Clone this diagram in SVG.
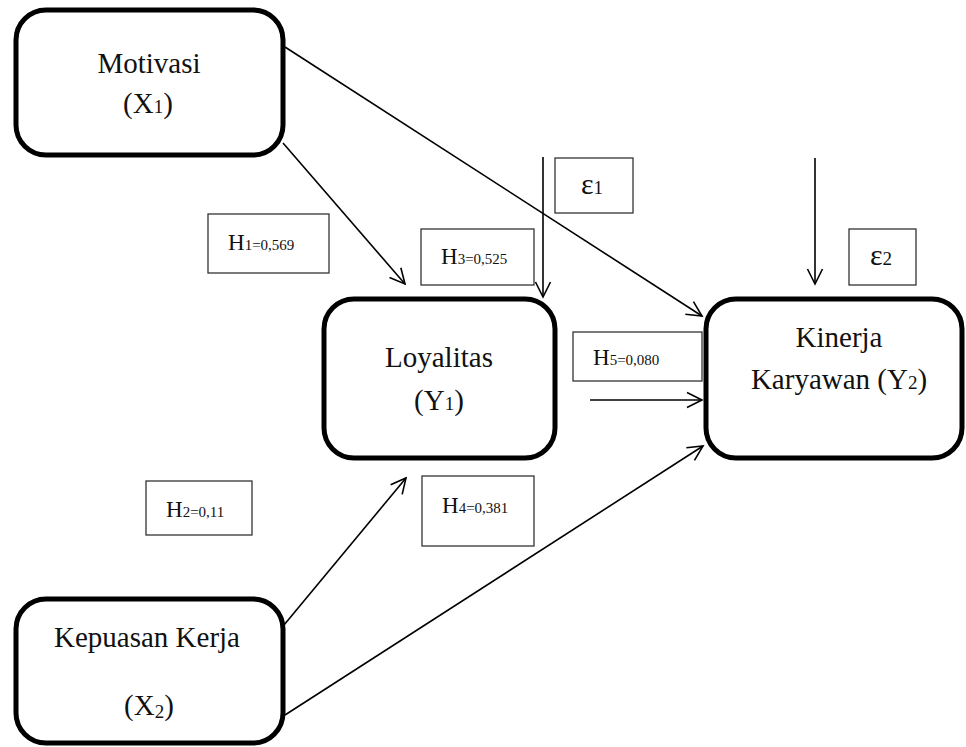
<svg xmlns="http://www.w3.org/2000/svg" width="966" height="747" viewBox="0 0 966 747">
<style>
.node{fill:#fff;stroke:#000;stroke-width:5}
.lbl{fill:#fff;stroke:#333;stroke-width:1.3}
.t{font-family:"Liberation Serif","Times New Roman",serif;font-size:29px;fill:#111}
.h{font-family:"Liberation Serif","Times New Roman",serif;font-size:23px;fill:#111}
.eps{font-family:"Liberation Serif","Times New Roman",serif;font-size:30px;fill:#111}
.sub{font-size:15px}
.sm{font-size:19px}
.c{fill:none;stroke:#000;stroke-width:1.6;marker-end:url(#arr)}
</style>
<defs>
<marker id="arr" markerUnits="userSpaceOnUse" markerWidth="18" markerHeight="18" viewBox="0 0 18 18" refX="16" refY="9" orient="auto">
<path d="M1,1.5 L16,9 L1,16.5" fill="none" stroke="#000" stroke-width="1.6"/>
</marker>
</defs>
<rect width="966" height="747" fill="#fff"/>
<g id="connectors">
<line class="c" x1="283" y1="143" x2="405" y2="284"/>
<line class="c" x1="285" y1="47" x2="702" y2="316"/>
<line class="c" x1="543" y1="157" x2="543" y2="297"/>
<line class="c" x1="815" y1="158" x2="815" y2="284"/>
<line class="c" x1="590" y1="400" x2="702" y2="400"/>
<line class="c" x1="284" y1="625" x2="406" y2="478"/>
<line class="c" x1="285" y1="715" x2="703" y2="446"/>
</g>
<g id="motivasi">
<rect class="node" x="16" y="10" width="267" height="145" rx="30"/>
<text class="t" x="149" y="73" text-anchor="middle">Motivasi</text>
<text class="t" x="148" y="113" text-anchor="middle">(X<tspan class="sm">1</tspan>)</text>
</g>
<g id="loyalitas">
<rect class="node" x="324" y="299" width="231" height="159" rx="30"/>
<text class="t" x="439" y="367" text-anchor="middle">Loyalitas</text>
<text class="t" x="439" y="410" text-anchor="middle">(Y<tspan class="sm">1</tspan>)</text>
</g>
<g id="kinerja">
<rect class="node" x="706" y="299" width="256" height="159" rx="30"/>
<text class="t" x="839" y="347" text-anchor="middle">Kinerja</text>
<text class="t" x="839" y="389" text-anchor="middle">Karyawan (Y<tspan class="sm">2</tspan>)</text>
</g>
<g id="kepuasan">
<rect class="node" x="16" y="599" width="267" height="144" rx="30"/>
<text class="t" x="147" y="647" text-anchor="middle">Kepuasan Kerja</text>
<text class="t" x="149" y="715" text-anchor="middle">(X<tspan class="sm" dy="3">2</tspan><tspan dy="-3">)</tspan></text>
</g>
<g id="e1">
<rect class="lbl" x="555" y="158" width="78" height="55"/>
<text class="eps" x="592" y="194" text-anchor="middle">ε<tspan class="sm">1</tspan></text>
</g>
<g id="e2">
<rect class="lbl" x="849" y="229" width="67" height="56"/>
<text class="eps" x="881" y="265" text-anchor="middle">ε<tspan class="sm">2</tspan></text>
</g>
<g id="h1">
<rect class="lbl" x="208" y="214" width="121" height="59"/>
<text class="h" x="228" y="250">H<tspan class="sub">1=0,569</tspan></text>
</g>
<g id="h3">
<rect class="lbl" x="421" y="229" width="113" height="56"/>
<text class="h" x="441" y="264">H<tspan class="sub">3=0,525</tspan></text>
</g>
<g id="h5">
<rect class="lbl" x="573" y="332" width="129" height="49"/>
<text class="h" x="593" y="365">H<tspan class="sub">5=0,080</tspan></text>
</g>
<g id="h2">
<rect class="lbl" x="146" y="481" width="106" height="54"/>
<text class="h" x="166" y="517">H<tspan class="sub">2=0,11</tspan></text>
</g>
<g id="h4">
<rect class="lbl" x="422" y="476" width="112" height="70"/>
<text class="h" x="442" y="513">H<tspan class="sub">4=0,381</tspan></text>
</g>
</svg>
